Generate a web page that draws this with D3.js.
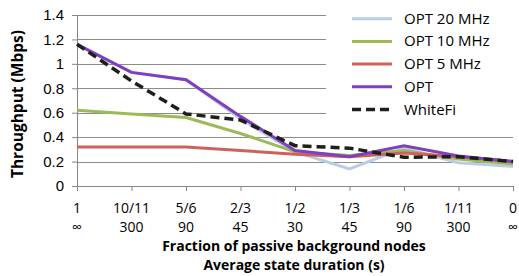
<!DOCTYPE html>
<html>
  <head>
    <meta charset="utf-8">
    <title>Throughput vs passive fraction</title>
    <style type="text/css">
      body { margin: 0; background: #fff; }
      svg { display: block; font-family: "Open Sans", sans-serif; }
    </style>
    <script src="https://d3js.org/d3.v7.min.js"></script>
  </head>
  <body>
    <svg class="chart"></svg>
    <script>

// tick labels (two rows under each category)
var fractions = ["1", "10/11", "5/6", "2/3", "1/2", "1/3", "1/6", "1/11", "0"];
var durations = ["\u221e", "300", "90", "45", "30", "45", "90", "300", "\u221e"];
var yTicks = [0, 0.2, 0.4, 0.6, 0.8, 1, 1.2, 1.4];

// series values (Mbps)
var opt20 = [1.16, 0.93, 0.87, 0.55, 0.28, 0.14, 0.31, 0.19, 0.16];
var opt10 = [0.62, 0.59, 0.56, 0.43, 0.28, 0.25, 0.29, 0.22, 0.18];
var opt5  = [0.32, 0.32, 0.32, 0.29, 0.26, 0.24, 0.27, 0.24, 0.20];
var opt   = [1.16, 0.93, 0.87, 0.57, 0.29, 0.24, 0.33, 0.245, 0.20];
var whitefi = [1.16, 0.86, 0.59, 0.54, 0.33, 0.31, 0.235, 0.24, 0.20];

var seriesNames = ["OPT 20 MHz", "OPT 10 MHz", "OPT 5 MHz", "OPT", "WhiteFi"];
var seriesColors = ["#b9cde5", "#9bbb59", "#d0605b", "#7f3fbf", "#1f1f1a"];

var series = [opt20, opt10, opt5, opt, whitefi].map(function(v, i) {
  return { name: seriesNames[i], values: v, color: seriesColors[i], dashed: i == 4 };
});

var W = 519, H = 276;
var margin = {top: 15, right: 6, bottom: 90, left: 77};
var width = W - margin.left - margin.right,
    height = H - margin.top - margin.bottom;

var svg = d3.select(".chart")
    .attr("width", W)
    .attr("height", H);

var g = svg.append("g")
    .attr("transform", "translate(" + margin.left + "," + margin.top + ")");

var x = d3.scalePoint()
  .domain(d3.range(fractions.length))
  .range([0, width]);

var y = d3.scaleLinear()
  .domain([0, 1.4])
  .range([height, 0]);

// gridlines
g.append("g")
  .selectAll("line")
  .data(yTicks.slice(1))
  .join("line")
    .attr("x1", 0)
    .attr("x2", width)
    .attr("y1", function(d) { return Math.round(y(d)) + 0.5; })
    .attr("y2", function(d) { return Math.round(y(d)) + 0.5; })
    .attr("stroke", "#8c8c8c")
    .attr("stroke-width", 1);

// y axis
var yAxis = g.append("g")
  .call(d3.axisLeft(y).tickValues(yTicks).tickSize(5).tickPadding(8)
    .tickFormat(function(d) { return d3.format("")(+d.toFixed(1)); }));
yAxis.selectAll("text").attr("font-size", 15).attr("fill", "#000");
yAxis.select(".domain").attr("stroke", "#868686");
yAxis.selectAll(".tick line").attr("stroke", "#868686");

// x axis with tick marks, custom two-row labels
var xAxis = g.append("g")
  .attr("transform", "translate(0," + height + ")")
  .call(d3.axisBottom(x).tickSize(5).tickSizeOuter(0).tickFormat(""));
xAxis.select(".domain").attr("stroke", "#868686");
xAxis.selectAll(".tick line").attr("stroke", "#868686");

g.append("g")
  .selectAll("text")
  .data(fractions)
  .join("text")
    .attr("x", function(d, i) { return x(i); })
    .attr("y", height + 27)
    .attr("text-anchor", "middle")
    .attr("font-size", 14)
    .text(function(d) { return d; });

g.append("g")
  .selectAll("text")
  .data(durations)
  .join("text")
    .attr("x", function(d, i) { return x(i); })
    .attr("y", height + 46)
    .attr("text-anchor", "middle")
    .attr("font-size", 14)
    .text(function(d) { return d; });

// axis titles
svg.append("text")
  .attr("x", 294)
  .attr("y", 251)
  .attr("text-anchor", "middle")
  .attr("font-size", 14)
  .attr("font-weight", "bold")
  .text("Fraction of passive background nodes");

svg.append("text")
  .attr("x", 294)
  .attr("y", 270)
  .attr("text-anchor", "middle")
  .attr("font-size", 14)
  .attr("font-weight", "bold")
  .text("Average state duration (s)");

svg.append("text")
  .attr("transform", "translate(23,104) rotate(-90)")
  .attr("text-anchor", "middle")
  .attr("font-size", 15.5)
  .attr("font-weight", "bold")
  .text("Throughput (Mbps)");

// lines
var line = d3.line()
  .x(function(d, i) { return x(i); })
  .y(function(d) { return y(d); });

g.append("g")
  .selectAll("path")
  .data(series)
  .join("path")
    .attr("fill", "none")
    .attr("stroke", function(d) { return d.color; })
    .attr("stroke-width", function(d) { return d.dashed ? 3.5 : 3; })
    .attr("stroke-dasharray", function(d) { return d.dashed ? "9,5" : null; })
    .attr("d", function(d) { return line(d.values); });

// legend
var legend = svg.append("g");
legend.append("rect")
  .attr("x", 326)
  .attr("y", 4)
  .attr("width", 193)
  .attr("height", 116)
  .attr("fill", "#fff");

var item = legend.selectAll("g.item")
  .data(series)
  .join("g")
    .attr("class", "item")
    .attr("transform", function(d, i) { return "translate(352," + (18.7 + i * 22.7) + ")"; });

item.append("line")
  .attr("x1", 0)
  .attr("x2", 40)
  .attr("stroke", function(d) { return d.color; })
  .attr("stroke-width", function(d) { return d.dashed ? 3.5 : 3; })
  .attr("stroke-dasharray", function(d) { return d.dashed ? "9,5" : null; });

item.append("text")
  .attr("x", 52)
  .attr("y", 5)
  .attr("font-size", 15)
  .text(function(d) { return d.name; });

</script>
  </body>
</html>
